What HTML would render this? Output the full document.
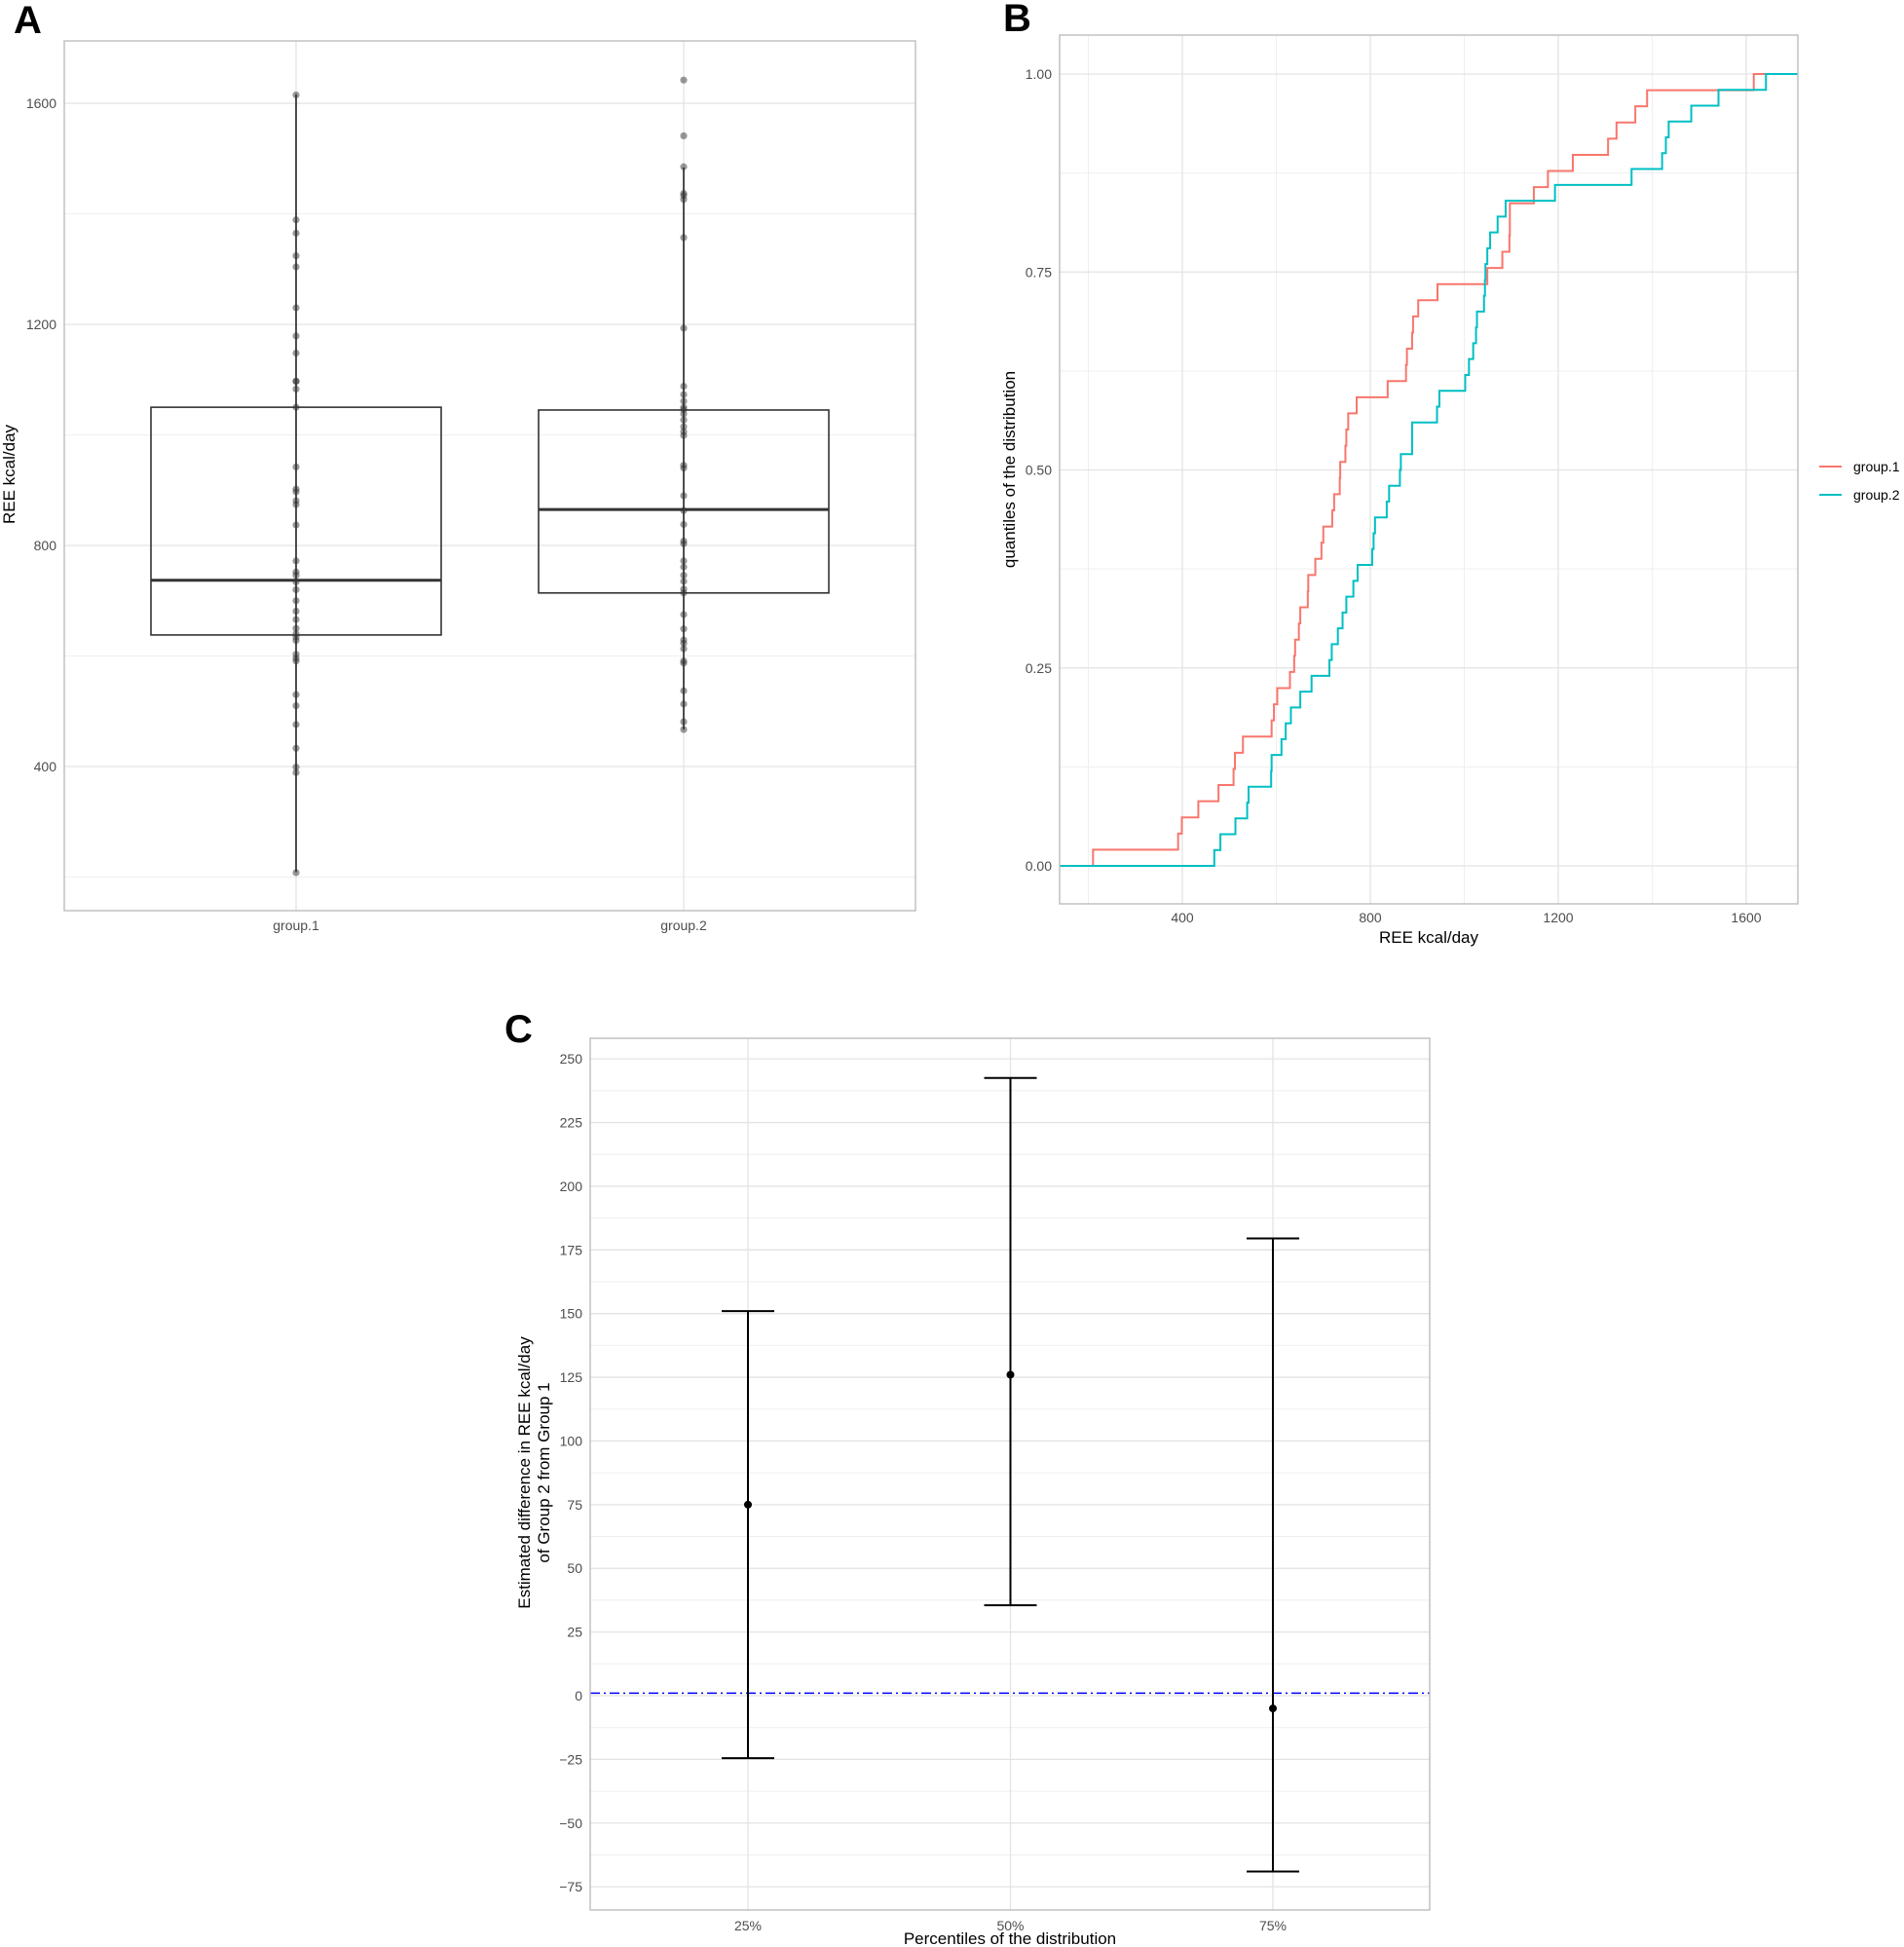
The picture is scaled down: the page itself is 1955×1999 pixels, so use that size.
<!DOCTYPE html>
<html><head><meta charset="utf-8"><style>
html,body{margin:0;padding:0;background:#fff;}
svg{display:block;font-family:"Liberation Sans",Arial,sans-serif;}
</style></head><body>
<svg id="fig" width="1955" height="1999" viewBox="0 0 1955 1999" xmlns="http://www.w3.org/2000/svg">
<g id="pa"></g>
<g id="pb"></g>
<g id="pc"></g>
</svg>
<script>
// ---------- Panel A data ----------
const groupsA = ["group.1","group.2"];
const boxLow = [209, 467];
const boxQ1 = [638, 714];
const boxMed = [737, 865];
const boxQ3 = [1050, 1045];
const boxHigh = [1616, 1484];
const pointsG1 = [1615,1389,1365,1324,1304,1230,1179,1148,1097,1097,1083,1050,942,902,897,881,874,837,772,752,746,734,720,700,681,666,650,640,634,628,603,596,591,530,510,476,433,399,389,208];
const pointsG2 = [1642,1541,1485,1437,1433,1426,1357,1193,1088,1073,1061,1050,1046,1038,1027,1015,1006,999,945,940,890,863,838,808,803,772,761,746,735,721,714,675,649,629,623,613,591,587,537,513,481,467];
const ticksA = [400,800,1200,1600];
const minorA = [200,600,1000,1400];
// ---------- Panel B data ----------
const ecdfG1 = [210,391,399,434,477,509,512,529,590,595,602,629,638,640,648,651,667,668,683,696,700,719,723,735,736,747,749,753,771,837,876,878,889,891,902,943,1049,1081,1096,1097,1097,1148,1178,1231,1306,1324,1364,1389,1616];
const ecdfG2 = [468,481,513,538,541,589,590,611,620,631,651,675,713,718,731,741,749,764,773,804,807,810,835,840,863,865,889,889,942,947,1002,1010,1019,1025,1027,1042,1044,1045,1049,1055,1071,1088,1193,1356,1421,1429,1435,1483,1541,1642];
const ticksBx = [400,800,1200,1600];
const minorBx = [200,600,1000,1400];
const ticksBy = [0,0.25,0.5,0.75,1];
const tickLabelsBy = ["0.00","0.25","0.50","0.75","1.00"];
const minorBy = [0.125,0.375,0.625,0.875];
// ---------- Panel C data ----------
const percentiles = ["25%","50%","75%"];
const estimates = [75,126,-5];
const ciLow = [-24.5,35.5,-69];
const ciHigh = [151,242.5,179.5];
const refLine = 1;
const ticksC = [-75,-50,-25,0,25,50,75,100,125,150,175,200,225,250];

const NS="http://www.w3.org/2000/svg";
function mk(parent,tag,attrs,text){const e=document.createElementNS(NS,tag);for(const k in attrs)e.setAttribute(k,attrs[k]);if(text!==undefined)e.textContent=text;parent.appendChild(e);return e;}
const GRID="#e3e3e3",GRIDMIN="#efefef",BORDER="#b8b8b8",TICKTXT="#4d4d4d";

// ===== Panel A =====
(function(){
 const g=document.getElementById('pa');
 const L=66,T=42,R=940,B=935;
 const y=v=>560-(v-800)*227/400;
 const xs=[304,702];
 const halfW=149;
 minorA.forEach(v=>{const l=mk(g,'line',{x1:L,x2:R,y1:y(v),y2:y(v),stroke:GRIDMIN,'stroke-width':1});
 
 });
 ticksA.forEach(v=>{const l=mk(g,'line',{x1:L,x2:R,y1:y(v),y2:y(v),stroke:GRID,'stroke-width':1.3});
 
 
 const t=mk(g,'text',{x:L-8,y:y(v)+5,'text-anchor':'end','font-size':14,fill:TICKTXT},v);
 
 });
 xs.forEach((x,i)=>{const l=mk(g,'line',{x1:x,x2:x,y1:T,y2:B,stroke:GRID,'stroke-width':1.3});
 
 
 const t=mk(g,'text',{x:x,y:955,'text-anchor':'middle','font-size':14,fill:TICKTXT},groupsA[i]);
 
 });
 groupsA.forEach((gn,i)=>{const x=xs[i];
  const w=mk(g,'line',{x1:x,x2:x,y1:y(boxHigh[i]),y2:y(boxLow[i]),stroke:'#222','stroke-width':1.6});
  
  
  const r=mk(g,'rect',{x:x-halfW,y:y(boxQ3[i]),width:halfW*2,height:y(boxQ1[i])-y(boxQ3[i]),fill:'none',stroke:'#333','stroke-width':1.6});
  
  
  const m=mk(g,'line',{x1:x-halfW,x2:x+halfW,y1:y(boxMed[i]),y2:y(boxMed[i]),stroke:'#333','stroke-width':3});
  
  
  const pts=i===0?pointsG1:pointsG2;
  pts.forEach(v=>{const c=mk(g,'circle',{cx:x,cy:y(v),r:3.6,fill:'#333','fill-opacity':0.5});
  
  });
 });
 const br=mk(g,'rect',{x:L,y:T,width:R-L,height:B-T,fill:'none',stroke:BORDER,'stroke-width':1.3});
 
 
 const yt=mk(g,'text',{x:0,y:0,transform:'translate(15,487) rotate(-90)','text-anchor':'middle','font-size':17,fill:'#000'},'REE kcal/day');
 
 
 const lt=mk(g,'text',{x:14,y:34,'font-size':40,'font-weight':'bold',fill:'#000'},'A');
 
 
})();

// ===== Panel B =====
(function(){
 const g=document.getElementById('pb');
 const L=1088,T=36,R=1846,B=928;
 const x=v=>1214+(v-400)*193/400;
 const y=v=>889-v*813;
 const xmin=139,xmax=1710;
 minorBx.forEach(v=>{const l=mk(g,'line',{x1:x(v),x2:x(v),y1:T,y2:B,stroke:GRIDMIN,'stroke-width':1});
 
 });
 minorBy.forEach(v=>{const l=mk(g,'line',{x1:L,x2:R,y1:y(v),y2:y(v),stroke:GRIDMIN,'stroke-width':1});
 
 });
 ticksBx.forEach(v=>{const l=mk(g,'line',{x1:x(v),x2:x(v),y1:T,y2:B,stroke:GRID,'stroke-width':1.3});
 
 
 const t=mk(g,'text',{x:x(v),y:947,'text-anchor':'middle','font-size':14,fill:TICKTXT},v);
 
 });
 ticksBy.forEach((v,i)=>{const l=mk(g,'line',{x1:L,x2:R,y1:y(v),y2:y(v),stroke:GRID,'stroke-width':1.3});
 
 
 const t=mk(g,'text',{x:L-8,y:y(v)+5,'text-anchor':'end','font-size':14,fill:TICKTXT},tickLabelsBy[i]);
 
 });
 function ecdf(arr,color,name){
  const s=arr.slice().sort((a,b)=>a-b);const n=s.length;
  let d='M'+x(xmin)+','+y(0);
  s.forEach((v,i)=>{d+=' H'+x(v)+' V'+y((i+1)/n);});
  d+=' H'+x(xmax);
  const p=mk(g,'path',{d:d,fill:'none',stroke:color,'stroke-width':2});
  
  
 }
 ecdf(ecdfG1,'#F8766D','ecdf-line-group-1');
 ecdf(ecdfG2,'#00BFC4','ecdf-line-group-2');
 const br=mk(g,'rect',{x:L,y:T,width:R-L,height:B-T,fill:'none',stroke:BORDER,'stroke-width':1.3});
 
 
 const xt=mk(g,'text',{x:1467,y:968,'text-anchor':'middle','font-size':17,fill:'#000'},'REE kcal/day');
 
 
 const yt=mk(g,'text',{x:0,y:0,transform:'translate(1042,482) rotate(-90)','text-anchor':'middle','font-size':17,fill:'#000'},'quantiles of the distribution');
 
 
 const lt=mk(g,'text',{x:1030,y:32,'font-size':40,'font-weight':'bold',fill:'#000'},'B');
 
 
 [['group.1','#F8766D',479],['group.2','#00BFC4',508]].forEach(e=>{
  const lg=mk(g,'g',{});
  
  
  mk(lg,'line',{x1:1868,x2:1891,y1:e[2],y2:e[2],stroke:e[1],'stroke-width':2});
  mk(lg,'text',{x:1903,y:e[2]+5,'font-size':14,fill:'#000'},e[0]);
 });
})();

// ===== Panel C =====
(function(){
 const g=document.getElementById('pc');
 const L=606,T=1066,R=1468,B=1961;
 const y=v=>1741-v*850/325;
 const x=i=>768+i*269.5;
 for(let v=-62.5;v<=262.5;v+=25){if(y(v)>T&&y(v)<B){const l=mk(g,'line',{x1:L,x2:R,y1:y(v),y2:y(v),stroke:GRIDMIN,'stroke-width':1});
 
 }}
 ticksC.forEach(v=>{const l=mk(g,'line',{x1:L,x2:R,y1:y(v),y2:y(v),stroke:GRID,'stroke-width':1.3});
 
 
 const t=mk(g,'text',{x:L-8,y:y(v)+5,'text-anchor':'end','font-size':14,fill:TICKTXT},v<0?'\u2212'+Math.abs(v):v);
 
 });
 percentiles.forEach((p,i)=>{const l=mk(g,'line',{x1:x(i),x2:x(i),y1:T,y2:B,stroke:GRID,'stroke-width':1.3});
 
 
 const t=mk(g,'text',{x:x(i),y:1982,'text-anchor':'middle','font-size':14,fill:TICKTXT},p);
 
 });
 const hl=mk(g,'line',{x1:L,x2:R,y1:y(refLine),y2:y(refLine),stroke:'#0000ff','stroke-width':1.6,'stroke-dasharray':'10,4,2,4'});
 
 
 percentiles.forEach((p,i)=>{
  const eg=mk(g,'g',{stroke:'#000','stroke-width':2});
  
  
  mk(eg,'line',{x1:x(i),x2:x(i),y1:y(ciHigh[i]),y2:y(ciLow[i])});
  mk(eg,'line',{x1:x(i)-27,x2:x(i)+27,y1:y(ciHigh[i]),y2:y(ciHigh[i])});
  mk(eg,'line',{x1:x(i)-27,x2:x(i)+27,y1:y(ciLow[i]),y2:y(ciLow[i])});
  const c=mk(g,'circle',{cx:x(i),cy:y(estimates[i]),r:4,fill:'#000'});
  
  
 });
 const br=mk(g,'rect',{x:L,y:T,width:R-L,height:B-T,fill:'none',stroke:BORDER,'stroke-width':1.3});
 
 
 const xt=mk(g,'text',{x:1037,y:1996,'text-anchor':'middle','font-size':17,fill:'#000'},'Percentiles of the distribution');
 
 
 const yt=mk(g,'text',{x:0,y:0,transform:'translate(0,1512) rotate(-90)','text-anchor':'middle','font-size':17,fill:'#000'});
 
 
 mk(yt,'tspan',{x:0,y:544},'Estimated difference in REE kcal/day');
 mk(yt,'tspan',{x:0,y:564},'of Group 2 from Group 1');
 const lt=mk(g,'text',{x:518,y:1070,'font-size':40,'font-weight':'bold',fill:'#000'},'C');
 
 
})();
</script>
</body></html>
